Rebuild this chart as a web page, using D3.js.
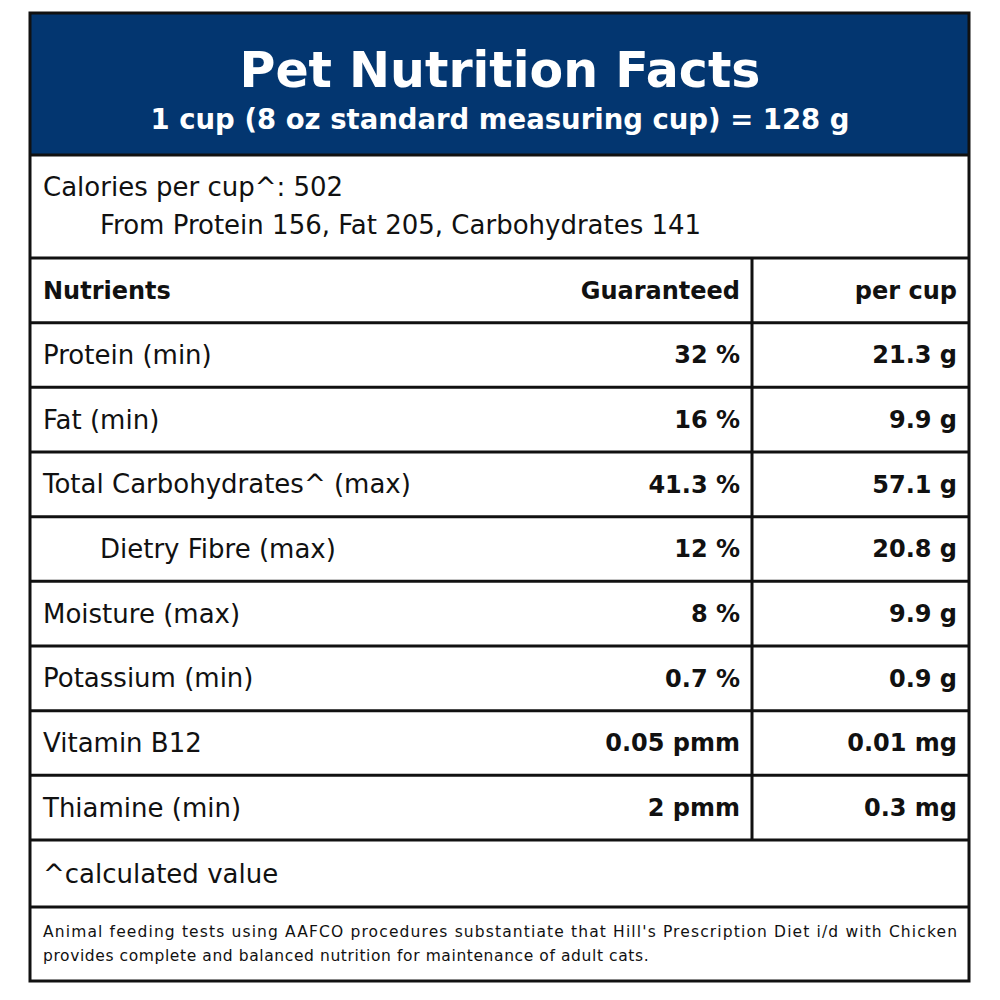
<!DOCTYPE html>
<html>
<head>
<meta charset="utf-8">
<script src="https://cdn.jsdelivr.net/npm/d3@7"></script>
<style>
  body { margin: 0; background: #fff; }
  text { font-family: "DejaVu Sans", sans-serif; }
</style>
</head>
<body>
<script>
var width = 1000;
var height = 1000;
var blue = "rgb(3, 54, 112)";
var lineColor = "#111";

var title = "Pet Nutrition Facts";
var subtitle = "1 cup (8 oz standard measuring cup) = 128 g";
var caloriesLine = "Calories per cup^: 502";
var caloriesFrom = "From Protein 156, Fat 205, Carbohydrates 141";
var headers = ["Nutrients", "Guaranteed", "per cup"];
var nutrients = ["Protein (min)", "Fat (min)", "Total Carbohydrates^ (max)", "Dietry Fibre (max)",
    "Moisture (max)", "Potassium (min)", "Vitamin B12", "Thiamine (min)"];
var indented = [false, false, false, true, false, false, false, false];
var guaranteed = ["32 %", "16 %", "41.3 %", "12 %", "8 %", "0.7 %", "0.05 pmm", "2 pmm"];
var perCup = ["21.3 g", "9.9 g", "57.1 g", "20.8 g", "9.9 g", "0.9 g", "0.01 mg", "0.3 mg"];
var footnote = "^calculated value";
var disclaimer = ["Animal feeding tests using AAFCO procedures substantiate that Hill's Prescription Diet i/d with Chicken",
    "provides complete and balanced nutrition for maintenance of adult cats."];

var svg = d3.select("body").append("svg")
    .attr("width", width)
    .attr("height", height);

var boxL = 30, boxR = 969, boxT = 13, boxB = 981;
var headerBottom = 155, calBottom = 258, tableTop = 258, tableBottom = 840, noteBottom = 907;
var colDiv = 752;
var padL = 43, padR = 957;
var bodySize = 26, boldSize = 24;

// header block
svg.append("rect")
    .attr("x", boxL).attr("y", boxT)
    .attr("width", boxR - boxL).attr("height", headerBottom - boxT)
    .attr("fill", blue);

svg.append("text")
    .attr("x", width / 2).attr("y", 87)
    .attr("text-anchor", "middle")
    .attr("fill", "#fff")
    .attr("font-size", 49)
    .attr("font-weight", 700)
    .text(title);

svg.append("text")
    .attr("x", width / 2).attr("y", 129)
    .attr("text-anchor", "middle")
    .attr("fill", "#fff")
    .attr("font-size", 27.5)
    .attr("font-weight", 700)
    .text(subtitle);

// calories
svg.append("text")
    .attr("x", padL).attr("y", 196)
    .attr("font-size", bodySize)
    .attr("fill", "#111")
    .text(caloriesLine);
svg.append("text")
    .attr("x", 100).attr("y", 234)
    .attr("font-size", bodySize)
    .attr("fill", "#111")
    .text(caloriesFrom);

// table rows
var rowKeys = ["header"].concat(nutrients);
var y = d3.scaleBand()
    .domain(rowKeys)
    .range([tableTop, tableBottom]);

var rows = nutrients.map(function(n, i) {
    return { name: n, indent: indented[i], g: guaranteed[i], c: perCup[i] };
});

// header row text
var hy = y("header") + y.bandwidth() / 2;
svg.append("text").attr("x", padL).attr("y", hy).attr("dy", "0.35em")
    .attr("font-size", boldSize).attr("font-weight", 700).attr("fill", "#111").text(headers[0]);
svg.append("text").attr("x", colDiv - 12).attr("y", hy).attr("dy", "0.35em")
    .attr("text-anchor", "end")
    .attr("font-size", boldSize).attr("font-weight", 700).attr("fill", "#111").text(headers[1]);
svg.append("text").attr("x", padR).attr("y", hy).attr("dy", "0.35em")
    .attr("text-anchor", "end")
    .attr("font-size", boldSize).attr("font-weight", 700).attr("fill", "#111").text(headers[2]);

var rowG = svg.selectAll("g.row")
    .data(rows)
    .enter().append("g")
    .attr("class", "row")
    .attr("transform", function(d) { return "translate(0," + (y(d.name) + y.bandwidth() / 2) + ")"; });

rowG.append("text")
    .attr("x", function(d) { return d.indent ? 100 : padL; })
    .attr("dy", "0.35em")
    .attr("font-size", bodySize)
    .attr("fill", "#111")
    .text(function(d) { return d.name; });

rowG.append("text")
    .attr("x", colDiv - 12)
    .attr("dy", "0.35em")
    .attr("text-anchor", "end")
    .attr("font-size", boldSize)
    .attr("font-weight", 700)
    .attr("fill", "#111")
    .text(function(d) { return d.g; });

rowG.append("text")
    .attr("x", padR)
    .attr("dy", "0.35em")
    .attr("text-anchor", "end")
    .attr("font-size", boldSize)
    .attr("font-weight", 700)
    .attr("fill", "#111")
    .text(function(d) { return d.c; });

// horizontal rules
var hLines = [headerBottom, calBottom].concat(rowKeys.slice(1).map(function(k) { return y(k); })).concat([tableBottom, noteBottom]);
svg.selectAll("line.h")
    .data(hLines)
    .enter().append("line")
    .attr("class", "h")
    .attr("x1", boxL).attr("x2", boxR)
    .attr("y1", function(d) { return d; })
    .attr("y2", function(d) { return d; })
    .attr("stroke", lineColor)
    .attr("stroke-width", 3);

// column divider
svg.append("line")
    .attr("x1", colDiv).attr("x2", colDiv)
    .attr("y1", tableTop).attr("y2", tableBottom)
    .attr("stroke", lineColor)
    .attr("stroke-width", 3);

// footnote
svg.append("text")
    .attr("x", padL).attr("y", (tableBottom + noteBottom) / 2)
    .attr("dy", "0.35em")
    .attr("font-size", bodySize)
    .attr("fill", "#111")
    .text(footnote);

// disclaimer, first line justified to the box
svg.append("text")
    .attr("x", padL).attr("y", 937)
    .attr("font-size", 15.5)
    .attr("fill", "#111")
    .attr("textLength", padR - padL)
    .attr("lengthAdjust", "spacing")
    .text(disclaimer[0]);
svg.append("text")
    .attr("x", padL).attr("y", 961)
    .attr("font-size", 15.5)
    .attr("letter-spacing", 0.6)
    .attr("fill", "#111")
    .text(disclaimer[1]);

// outer border
svg.append("rect")
    .attr("x", boxL).attr("y", boxT)
    .attr("width", boxR - boxL).attr("height", boxB - boxT)
    .attr("fill", "none")
    .attr("stroke", lineColor)
    .attr("stroke-width", 3);
</script>
</body>
</html>
